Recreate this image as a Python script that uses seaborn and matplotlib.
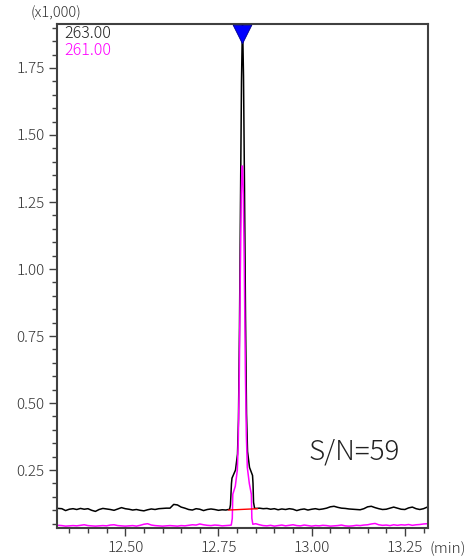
import numpy as np
import pandas as pd
import matplotlib
matplotlib.use("Agg")
import matplotlib.pyplot as plt
from matplotlib.ticker import MultipleLocator, FormatStrFormatter
import seaborn as sns

# ---- chromatogram data (retention time in min, intensity in x1,000) ----
base_pre_time = np.round(np.arange(12.32, 12.785, 0.01), 2)
base_post_time = np.round(np.arange(12.85, 13.315, 0.01), 2)

mz263_pre = [0.107, 0.106, 0.099, 0.104, 0.106, 0.103, 0.107, 0.104, 0.106, 0.100,
             0.096, 0.103, 0.107, 0.105, 0.103, 0.100, 0.105, 0.110, 0.106, 0.104,
             0.101, 0.103, 0.100, 0.098, 0.102, 0.105, 0.103, 0.106, 0.107, 0.108,
             0.108, 0.122, 0.120, 0.112, 0.108, 0.103, 0.101, 0.106, 0.104, 0.099,
             0.103, 0.105, 0.103, 0.100, 0.102, 0.101, 0.104]
mz263_peak_time = [12.7822, 12.7849, 12.7863, 12.7957, 12.8011, 12.8037, 12.8064,
                   12.8091, 12.8118, 12.8145, 12.8172, 12.8199, 12.8226, 12.8253,
                   12.8280, 12.8333, 12.8414, 12.8427, 12.8441, 12.8468]
mz263_peak = [0.12, 0.20, 0.22, 0.25, 0.31, 0.44, 0.78, 1.25, 1.70, 1.93,
              1.72, 1.30, 0.82, 0.46, 0.32, 0.26, 0.23, 0.20, 0.13, 0.108]
mz263_post = [0.107, 0.108, 0.106, 0.107, 0.104, 0.106, 0.102, 0.105, 0.103, 0.106,
              0.104, 0.099, 0.103, 0.105, 0.101, 0.104, 0.106, 0.103, 0.105, 0.108,
              0.113, 0.115, 0.111, 0.108, 0.107, 0.105, 0.104, 0.103, 0.102, 0.106,
              0.113, 0.115, 0.110, 0.106, 0.103, 0.104, 0.108, 0.112, 0.108, 0.104,
              0.103, 0.109, 0.112, 0.106, 0.103, 0.106, 0.112]

mz261_pre = [0.044, 0.043, 0.041, 0.042, 0.043, 0.042, 0.044, 0.046, 0.043, 0.042,
             0.041, 0.042, 0.043, 0.042, 0.045, 0.046, 0.043, 0.042, 0.041, 0.042,
             0.043, 0.041, 0.044, 0.048, 0.050, 0.045, 0.043, 0.042, 0.041, 0.042,
             0.043, 0.042, 0.041, 0.043, 0.042, 0.044, 0.046, 0.045, 0.049, 0.046,
             0.044, 0.043, 0.045, 0.044, 0.042, 0.043, 0.044]
mz261_peak_time = [12.7844, 12.7871, 12.7885, 12.7952, 12.8006, 12.8032, 12.8059,
                   12.8086, 12.8113, 12.8132, 12.8148, 12.8167, 12.8194, 12.8221,
                   12.8248, 12.8274, 12.8328, 12.8382, 12.8396, 12.8422]
mz261_peak = [0.045, 0.07, 0.16, 0.19, 0.25, 0.36, 0.60, 0.98, 1.28, 1.384,
              1.384, 1.28, 1.00, 0.63, 0.38, 0.26, 0.20, 0.16, 0.07, 0.048]
mz261_post = [0.050, 0.046, 0.043, 0.042, 0.044, 0.041, 0.043, 0.045, 0.042, 0.044,
              0.046, 0.043, 0.042, 0.045, 0.043, 0.041, 0.043, 0.042, 0.044, 0.043,
              0.041, 0.042, 0.043, 0.045, 0.042, 0.041, 0.042, 0.044, 0.043, 0.045,
              0.046, 0.049, 0.051, 0.046, 0.044, 0.045, 0.043, 0.046, 0.044, 0.046,
              0.045, 0.047, 0.044, 0.046, 0.047, 0.049, 0.050]

# peak integration baseline and detected peak top
baseline_time = [12.777, 12.855]
baseline_level = [0.101, 0.106]
peak_top_time = 12.8125

trace_labels = ["263.00", "261.00"]
trace_colors = ["#000000", "#ff00ff"]
sn_text = "S/N=59"

frames = []
for label, pre, pt, pk, post in [
    (trace_labels[0], mz263_pre, mz263_peak_time, mz263_peak, mz263_post),
    (trace_labels[1], mz261_pre, mz261_peak_time, mz261_peak, mz261_post),
]:
    t = np.concatenate([base_pre_time, pt, base_post_time])
    y = np.concatenate([pre, pk, post])
    frames.append(pd.DataFrame({"time": t, "intensity": y, "mz": label}))
df = pd.concat(frames, ignore_index=True)

# ---- figure ----
sns.set_style("ticks")
plt.rcParams["font.family"] = ["Noto Sans CJK JP", "DejaVu Sans"]
plt.rcParams["font.weight"] = "light"
ink = "#333333"

fig = plt.figure(figsize=(4.76, 5.60), dpi=100)
ax = fig.add_axes([57 / 476, 32 / 560, 371 / 476, 504 / 560])

sns.lineplot(data=df, x="time", y="intensity", hue="mz", hue_order=trace_labels,
             palette=trace_colors, linewidth=1.1, legend=False, ax=ax,
             estimator=None, sort=False)
sns.lineplot(x=baseline_time, y=baseline_level, color="#ff0000", linewidth=1.0,
             ax=ax, zorder=4)

xlim = (12.317, 13.312)
ylim = (0.034, 1.914)
ax.set_xlim(*xlim)
ax.set_ylim(*ylim)

marker_y = ylim[0] + 0.980 * (ylim[1] - ylim[0])
sns.scatterplot(x=[peak_top_time], y=[marker_y], marker="v", s=180,
                color="#0000ff", edgecolor="#00008b", linewidth=0.6,
                ax=ax, zorder=6, clip_on=False, legend=False)

ax.xaxis.set_major_locator(MultipleLocator(0.25))
ax.xaxis.set_minor_locator(MultipleLocator(0.05))
ax.yaxis.set_major_locator(MultipleLocator(0.25))
ax.yaxis.set_minor_locator(MultipleLocator(0.05))
ax.xaxis.set_major_formatter(FormatStrFormatter("%.2f"))
ax.yaxis.set_major_formatter(FormatStrFormatter("%.2f"))
ax.tick_params(which="major", direction="out", length=6, width=1.0,
               color="#404040", labelsize=11, labelcolor=ink, pad=3)
ax.tick_params(which="minor", direction="out", length=3.5, width=1.0,
               color="#404040")
ax.set_xlabel("")
ax.set_ylabel("")

for side in ["left", "right", "top", "bottom"]:
    ax.spines[side].set_visible(True)
    ax.spines[side].set_color("#404040")
    ax.spines[side].set_linewidth(1.5)

# trace labels
ax.text(0.019, 0.982, trace_labels[0], transform=ax.transAxes, color="#222222",
        fontsize=11.5, ha="left", va="center")
ax.text(0.019, 0.948, trace_labels[1], transform=ax.transAxes, color=trace_colors[1],
        fontsize=11.5, ha="left", va="center")

ax.text(0.677, 0.151, sn_text, transform=ax.transAxes, color="#222222",
        fontsize=20, ha="left", va="center")

fig.text(56 / 476, 1 - 13 / 560, "(x1,000)", color=ink, fontsize=10.5,
         ha="center", va="center")
fig.text(466 / 476, 1 - 549 / 560, "(min)", color=ink, fontsize=11,
         ha="right", va="center")

fig.savefig("out.png", dpi=100, facecolor="white")
